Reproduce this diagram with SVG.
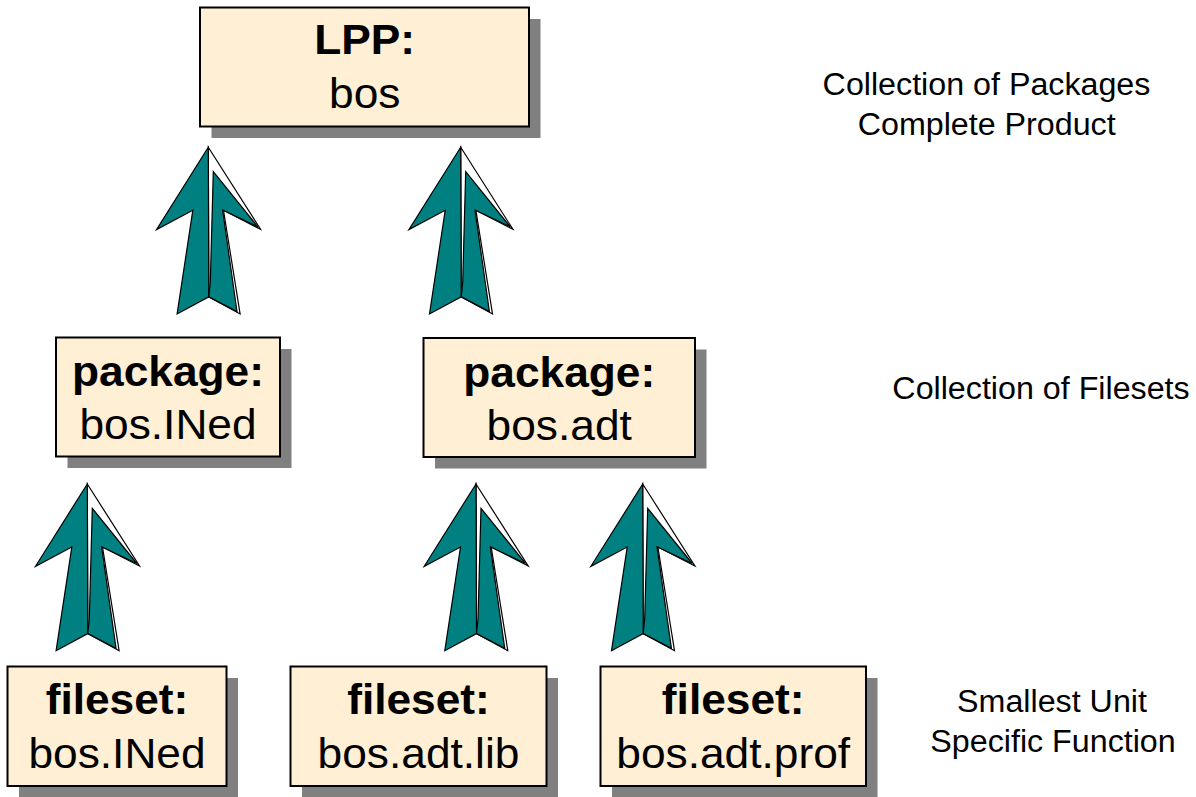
<svg xmlns="http://www.w3.org/2000/svg" xmlns:xlink="http://www.w3.org/1999/xlink" width="1196" height="797" viewBox="0 0 1196 797">
  <style>
    .shadow { fill: #808080; }
    .box { fill: #FFEFD5; stroke: #000; stroke-width: 2; }
    .t { font-family: "Liberation Sans", Arial, sans-serif; font-size: 43px; fill: #000; text-anchor: middle; }
    .b { font-weight: bold; }
    .note { font-family: "Liberation Sans", Arial, sans-serif; font-size: 31px; fill: #000; text-anchor: middle; }
    .ap { stroke: #000; stroke-width: 1.2; stroke-linejoin: miter; }
  </style>
  <defs>
    <!-- folded block arrow, tip at the origin, pointing up -->
    <g id="uparrow">
      <polygon class="ap" fill="#fff" points="0,0 52.2,82 15.2,63 31.8,166.7 0.5,149.6"/>
      <polygon class="ap" fill="#008080" points="0,0 -51.8,82.3 -15.5,63 -31.2,166.7 0.5,149.6 0.5,135"/>
      <polygon class="ap" fill="#008080" points="5,24.3 49.5,79.5 14.3,62.7 28.7,164.3 0.5,149.6 2,135"/>
    </g>
  </defs>

  <g id="connectors">
    <use xlink:href="#uparrow" transform="translate(208.3,147.3)"/>
    <use xlink:href="#uparrow" transform="translate(460.7,147.3)"/>
    <use xlink:href="#uparrow" transform="translate(87.3,484)"/>
    <use xlink:href="#uparrow" transform="translate(476,484)"/>
    <use xlink:href="#uparrow" transform="translate(642.7,484)"/>
  </g>

  <g id="lpp-bos">
    <rect class="shadow" x="211.5" y="19" width="329" height="119"/>
    <rect class="box" x="200" y="7.5" width="329" height="119"/>
    <text class="t b" transform="translate(364.7,54) scale(1.03,1)">LPP:</text>
    <text class="t" transform="translate(364.7,108) scale(1.03,1)">bos</text>
  </g>

  <g id="package-bos-lned">
    <rect class="shadow" x="67.5" y="349" width="224" height="119"/>
    <rect class="box" x="56" y="337.5" width="224" height="119"/>
    <text class="t b" transform="translate(168,386) scale(1.03,1)">package:</text>
    <text class="t" transform="translate(168,439) scale(1.03,1)">bos.INed</text>
  </g>

  <g id="package-bos-adt">
    <rect class="shadow" x="435" y="349.5" width="271.5" height="119"/>
    <rect class="box" x="423.5" y="338" width="271.5" height="119"/>
    <text class="t b" transform="translate(559.2,386.5) scale(1.03,1)">package:</text>
    <text class="t" transform="translate(559.2,439.5) scale(1.03,1)">bos.adt</text>
  </g>

  <g id="fileset-bos-lned">
    <rect class="shadow" x="19" y="678" width="219" height="119.5"/>
    <rect class="box" x="7.5" y="666.5" width="219" height="119.5"/>
    <text class="t b" transform="translate(117,714) scale(1.03,1)">fileset:</text>
    <text class="t" transform="translate(117,768) scale(1.03,1)">bos.INed</text>
  </g>

  <g id="fileset-bos-adt-lib">
    <rect class="shadow" x="302" y="678" width="256" height="119.5"/>
    <rect class="box" x="290.5" y="666.5" width="256" height="119.5"/>
    <text class="t b" transform="translate(418.5,714) scale(1.03,1)">fileset:</text>
    <text class="t" transform="translate(418.5,768) scale(1.03,1)">bos.adt.lib</text>
  </g>

  <g id="fileset-bos-adt-prof">
    <rect class="shadow" x="612" y="678" width="265.5" height="119.5"/>
    <rect class="box" x="600.5" y="666.5" width="265.5" height="119.5"/>
    <text class="t b" transform="translate(733.2,714) scale(1.03,1)">fileset:</text>
    <text class="t" transform="translate(733.2,768) scale(1.03,1)">bos.adt.prof</text>
  </g>

  <g id="level-notes">
    <text class="note" transform="translate(986.5,95) scale(1.04,1)">Collection of Packages</text>
    <text class="note" transform="translate(986.7,135) scale(1.04,1)">Complete Product</text>
    <text class="note" transform="translate(1041,398.5) scale(1.04,1)">Collection of Filesets</text>
    <text class="note" transform="translate(1052,712) scale(1.04,1)">Smallest Unit</text>
    <text class="note" transform="translate(1053,752) scale(1.04,1)">Specific Function</text>
  </g>
</svg>
